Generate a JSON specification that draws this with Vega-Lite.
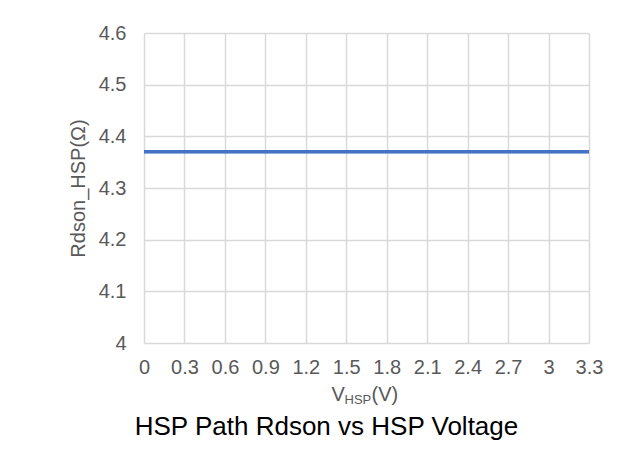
{
  "$schema": "https://vega.github.io/schema/vega-lite/v6.json",
  "autosize": "none",
  "width": 445,
  "height": 310,
  "padding": {"left": 144, "top": 33, "right": 52, "bottom": 116},
  "background": "white",
  "config": {
    "font": "Liberation Sans",
    "view": {"stroke": null}
  },
  "title": {
    "text": "HSP Path Rdson vs HSP Voltage",
    "orient": "bottom",
    "anchor": "middle",
    "fontSize": 26,
    "fontWeight": "normal",
    "color": "#000000",
    "font": "Liberation Sans",
    "offset": 8,
    "dx": -40
  },
  "data": {
    "values": [
      {"v": 0, "r": 4.37},
      {"v": 0.3, "r": 4.37},
      {"v": 0.6, "r": 4.37},
      {"v": 0.9, "r": 4.37},
      {"v": 1.2, "r": 4.37},
      {"v": 1.5, "r": 4.37},
      {"v": 1.8, "r": 4.37},
      {"v": 2.1, "r": 4.37},
      {"v": 2.4, "r": 4.37},
      {"v": 2.7, "r": 4.37},
      {"v": 3.0, "r": 4.37},
      {"v": 3.3, "r": 4.37}
    ]
  },
  "resolve": {"axis": {"x": "independent"}},
  "layer": [
    {
      "mark": {"type": "line", "color": "#4472c4", "strokeWidth": 3},
      "encoding": {
        "x": {
          "field": "v", "type": "quantitative",
          "scale": {"domain": [0, 3.3], "nice": false, "zero": false},
          "axis": {
            "values": [0, 0.3, 0.6, 0.9, 1.2, 1.5, 1.8, 2.1, 2.4, 2.7, 3.0, 3.3],
            "format": ".2~f",
            "labelFontSize": 20, "labelColor": "#595959", "labelPadding": 14,
            "labelFlush": false, "labelOverlap": false,
            "ticks": false, "domain": false,
            "grid": true, "gridColor": "#d9d9d9", "gridWidth": 1.5,
            "title": "V", "titleFontSize": 20, "titleFontWeight": "normal", "titleColor": "#595959",
            "titleX": 187, "titleY": 57, "titleAlign": "left", "titleBaseline": "alphabetic"
          }
        },
        "y": {
          "field": "r", "type": "quantitative",
          "scale": {"domain": [4, 4.6], "nice": false, "zero": false},
          "axis": {
            "values": [4, 4.1, 4.2, 4.3, 4.4, 4.5, 4.6],
            "format": ".1~f",
            "labelFontSize": 20, "labelColor": "#595959", "labelPadding": 18,
            "labelFlush": false, "labelOverlap": false,
            "ticks": false, "domain": false,
            "grid": true, "gridColor": "#d9d9d9", "gridWidth": 1.5,
            "title": "Rdson_HSP(Ω)", "titleFontSize": 20, "titleFontWeight": "normal", "titleColor": "#595959",
            "titleAngle": -90, "titleX": -60, "titleY": 155, "titleAlign": "center", "titleBaseline": "alphabetic"
          }
        }
      }
    },
    {
      "mark": {"type": "line", "color": "#4472c4", "strokeWidth": 3},
      "encoding": {
        "x": {
          "field": "v", "type": "quantitative",
          "axis": {
            "orient": "top",
            "labels": false, "ticks": false, "domain": false, "grid": false,
            "title": "HSP", "titleFontSize": 13, "titleFontWeight": "normal", "titleColor": "#595959",
            "titleX": 200, "titleY": 370, "titleAlign": "left", "titleBaseline": "alphabetic"
          }
        },
        "y": {"field": "r", "type": "quantitative"}
      }
    },
    {
      "mark": {"type": "line", "color": "#4472c4", "strokeWidth": 3},
      "encoding": {
        "x": {
          "field": "v", "type": "quantitative",
          "axis": {
            "orient": "top",
            "labels": false, "ticks": false, "domain": false, "grid": false,
            "title": "(V)", "titleFontSize": 20, "titleFontWeight": "normal", "titleColor": "#595959",
            "titleX": 227, "titleY": 367, "titleAlign": "left", "titleBaseline": "alphabetic"
          }
        },
        "y": {"field": "r", "type": "quantitative"}
      }
    }
  ]
}
